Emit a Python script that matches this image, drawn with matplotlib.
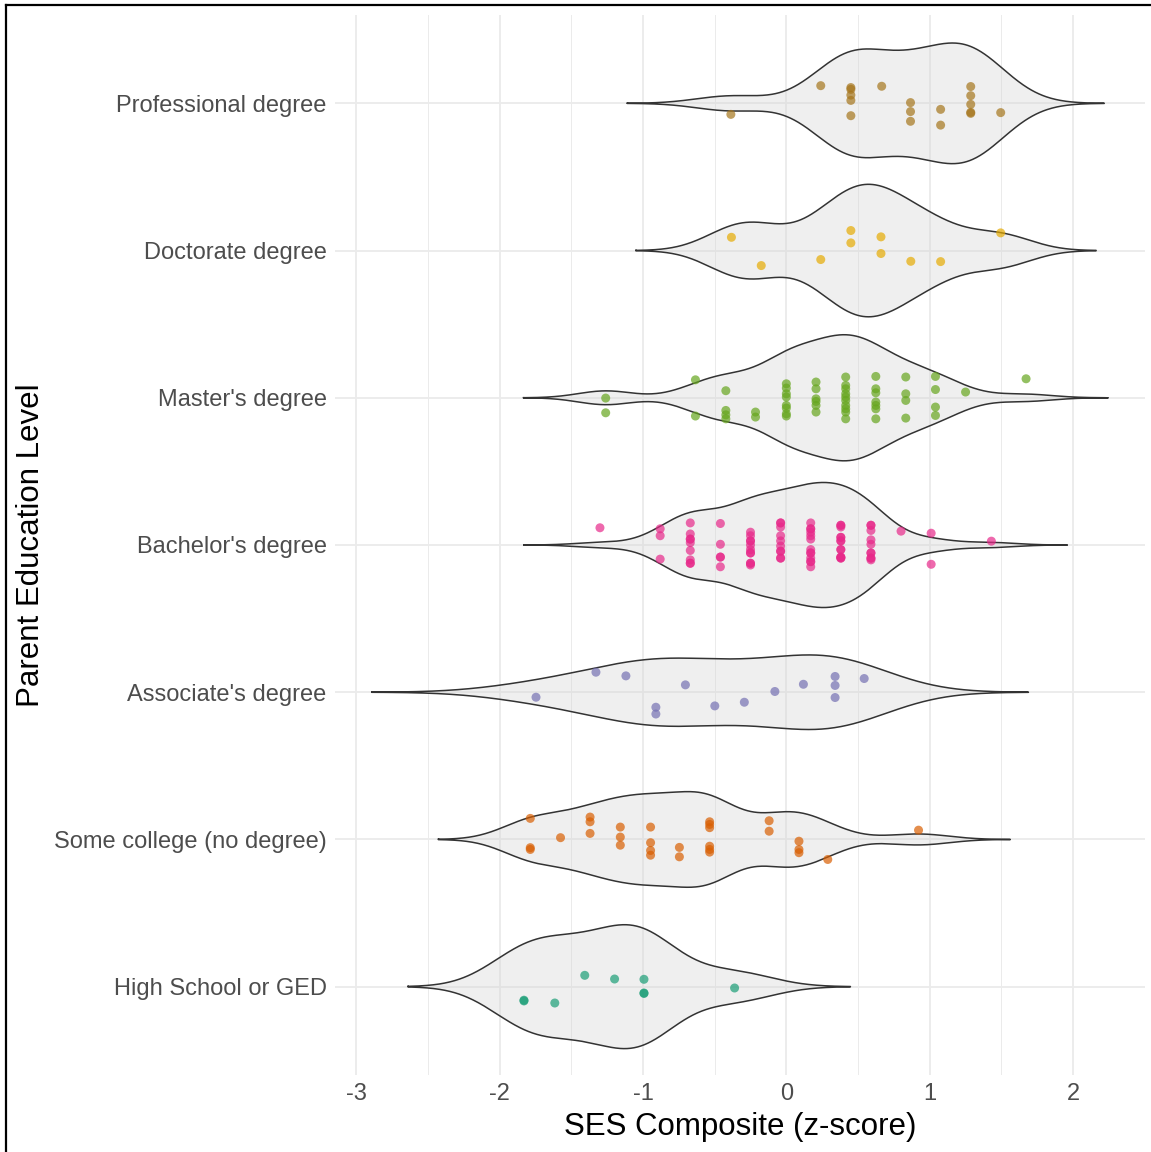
import numpy as np
import matplotlib
matplotlib.use("Agg")
import matplotlib.pyplot as plt
from matplotlib.lines import Line2D

plt.rcParams['font.family'] = ['Liberation Sans', 'DejaVu Sans']
plt.rcParams['axes.unicode_minus'] = False

# categories, top to bottom
levels = ["Professional degree", "Doctorate degree", "Master's degree",
          "Bachelor's degree", "Associate's degree", "Some college (no degree)",
          "High School or GED"]
colors = ["#A6761D", "#E6AB02", "#66A61E", "#E7298A", "#7570B3", "#D95F02", "#1B9E77"]

prof_ses = [-0.387, 0.24, 0.45, 0.45, 0.45, 0.45, 0.45, 0.665, 0.866, 0.866, 0.866,
            1.076, 1.076, 1.286, 1.286, 1.286, 1.286, 1.286, 1.495]
prof_jit = [0.075, -0.120, -0.107, -0.095, -0.056, -0.020, 0.084, -0.116, -0.005, 0.056, 0.122,
            0.041, 0.148, -0.114, -0.052, 0.007, 0.061, 0.068, 0.063]

doct_ses = [-0.383, -0.175, 0.24, 0.45, 0.45, 0.66, 0.66, 0.868, 1.076, 1.495]
doct_jit = [-0.090, 0.102, 0.061, -0.136, -0.052, -0.093, 0.020, 0.073, 0.075, -0.120]

mast_ses = ([-1.26] * 2 + [-0.634] * 2 + [-0.422] * 4 + [-0.215] * 2 + [0.0] * 8 +
            [0.207] * 6 + [0.414] * 10 + [0.624] * 7 + [0.833] * 4 + [1.04] * 4 +
            [1.25] + [1.672])
mast_jit = [0.002, 0.102,
            -0.122, 0.124,
            -0.048, 0.086, 0.116, 0.143,
            0.097, 0.131,
            -0.095, -0.066, -0.027, -0.005, 0.052, 0.070, 0.109, 0.124,
            -0.107, -0.061, 0.007, 0.025, 0.052, 0.097,
            -0.141, -0.084, -0.061, -0.027, -0.005, 0.018, 0.052, 0.075, 0.097, 0.143,
            -0.145, -0.061, -0.034, 0.029, 0.052, 0.075, 0.143,
            -0.141, -0.027, 0.018, 0.138,
            -0.145, -0.056, 0.063, 0.120,
            -0.039,
            -0.129]

# bachelor's columns are crowded: the darker dots hide overlapping points
bach_ses = ([-1.30] + [-0.88] * 3 + [-0.67] * 9 + [-0.46] * 5 + [-0.25] * 11 +
            [-0.04] * 10 + [0.17] * 13 + [0.38] * 13 + [0.59] * 10 + [0.80] +
            [1.01] * 2 + [1.43])
bach_jit = [-0.117,
            -0.110, -0.063, 0.096,
            -0.150, -0.075, -0.040, -0.040, -0.016, 0.037, 0.101, 0.124, 0.124,
            -0.146, -0.005, 0.082, 0.082, 0.148,
            -0.087, -0.063, -0.028, -0.028, 0.0, 0.031, 0.054, 0.054, 0.124, 0.124, 0.136,
            -0.150, -0.150, -0.122, -0.063, -0.028, 0.007, 0.042, 0.042, 0.089, 0.089,
            -0.150, -0.110, -0.110, -0.087, -0.063, -0.040, 0.031, 0.054, 0.054,
            0.089, 0.113, 0.113, 0.148,
            -0.134, -0.134, -0.122, -0.052, -0.052, -0.028, -0.028, 0.031, 0.031,
            0.082, 0.082, 0.089, 0.089,
            -0.134, -0.134, -0.099, -0.035, -0.005, 0.054, 0.054, 0.089, 0.089, 0.101,
            -0.094,
            -0.080, 0.131,
            -0.026]

asso_ses = [-1.746, -1.328, -1.119, -0.910, -0.910, -0.704, -0.499, -0.293, -0.08,
            0.119, 0.34, 0.34, 0.34, 0.543]
asso_jit = [0.034, -0.136, -0.111, 0.102, 0.148, -0.050, 0.093, 0.068, -0.005,
            -0.054, -0.107, -0.046, 0.036, -0.093]

coll_ses = ([-1.786] * 3 + [-1.575] + [-1.369] * 3 + [-1.158] * 3 + [-0.947] * 4 +
            [-0.746] * 2 + [-0.535] * 6 + [-0.12] * 2 + [0.088] * 3 + [0.289] + [0.922])
coll_jit = [-0.143, 0.056, 0.068,
            -0.012,
            -0.152, -0.120, -0.041,
            -0.084, -0.016, 0.039,
            -0.084, 0.022, 0.075, 0.107,
            0.054, 0.118,
            -0.120, -0.102, -0.080, 0.046, 0.068, 0.086,
            -0.127, -0.056,
            0.012, 0.068, 0.090,
            0.136,
            -0.063]

hs_ses = [-1.83, -1.83, -1.615, -1.406, -1.198, -0.993, -0.993, -0.993, -0.361]
hs_jit = [0.097, 0.092, 0.111, -0.077, -0.052, -0.050, 0.043, 0.046, 0.009]

groups_ses = [prof_ses, doct_ses, mast_ses, bach_ses, asso_ses, coll_ses, hs_ses]
groups_jit = [prof_jit, doct_jit, mast_jit, bach_jit, asso_jit, coll_jit, hs_jit]


def bw_nrd0(x):
    x = np.asarray(x)
    sd = np.std(x, ddof=1)
    iqr = np.subtract(*np.percentile(x, [75, 25]))
    return 0.9 * min(sd, iqr / 1.34) * len(x) ** -0.2


def kde(x, bw, n=512):
    x = np.asarray(x)
    grid = np.linspace(x.min() - 3 * bw, x.max() + 3 * bw, n)
    d = np.exp(-0.5 * ((grid[:, None] - x[None, :]) / bw) ** 2).sum(axis=1)
    d /= len(x) * bw * np.sqrt(2 * np.pi)
    return grid, d


dens = [kde(g, bw_nrd0(g)) for g in groups_ses]
dmax = max(d.max() for _, d in dens)

fig = plt.figure(figsize=(11.51, 11.52), dpi=100)
ax = fig.add_axes([335 / 1151, 1 - 1075 / 1152, 810 / 1151, 1060 / 1152])

for i, (grid, d) in enumerate(dens):
    hw = 0.45 * d / dmax
    ax.fill_between(grid, i - hw, i + hw, facecolor="#D3D3D3", alpha=0.35,
                    linewidth=0, zorder=2)
    xs = np.concatenate([grid, grid[::-1], grid[:1]])
    ys = np.concatenate([i - hw, (i + hw)[::-1], [i - hw[0]]])
    ax.plot(xs, ys, color="#333333", lw=1.1, zorder=3)

for i, (v, j) in enumerate(zip(groups_ses, groups_jit)):
    ax.scatter(v, i + np.asarray(j), s=42, color=colors[i], alpha=0.7,
               edgecolors="none", zorder=4)

lo = min(g.min() for g, _ in dens)
hi = max(g.max() for g, _ in dens)
pad = 0.05 * (hi - lo)
ax.set_xlim(lo - pad, hi + pad)
ax.set_ylim(len(levels) - 0.4, -0.6)

ax.set_xticks(np.arange(-3, 3))
ax.set_xticks(np.arange(-2.5, 2.6, 1.0), minor=True)
ax.set_yticks(range(len(levels)))
ax.set_yticklabels(levels)
ax.grid(True, which="major", color="#EBEBEB", lw=1.3, zorder=0)
ax.grid(True, which="minor", axis="x", color="#EBEBEB", lw=0.7, zorder=0)
ax.set_axisbelow(True)
ax.tick_params(which="both", length=0, labelsize=17, labelcolor="#4D4D4D", pad=6)
for s in ax.spines.values():
    s.set_visible(False)

ax.set_xlabel("SES Composite (z-score)", fontsize=22.5, labelpad=5)
ax.set_ylabel("Parent Education Level", fontsize=22.5, labelpad=6)

# thin frame at the top and left of the original screenshot
fig.add_artist(Line2D([5.5 / 1151, 5.5 / 1151], [0, 1 - 5 / 1152], color="black", lw=1.6))
fig.add_artist(Line2D([5.5 / 1151, 1], [1 - 5 / 1152, 1 - 5 / 1152], color="black", lw=1.6))

fig.savefig("out.png", dpi=100)
